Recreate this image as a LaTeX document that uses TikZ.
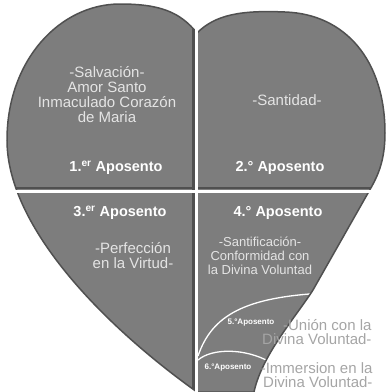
\documentclass[tikz,border=0pt]{standalone}
\usepackage{fontspec}
\setmainfont{Liberation Sans}
\definecolor{relleno}{RGB}{125,125,125}
\definecolor{sombra}{RGB}{80,80,80}
\definecolor{claro}{RGB}{228,228,228}
\definecolor{fuera}{RGB}{165,165,165}
\newcommand{\corazon}{(197,33) .. controls (180,12) and (160,4) .. (120,4)
  .. controls (60,4) and (7,60) .. (7,140)
  .. controls (7,230) and (110,330) .. (197,392)
  -- (254,392) .. controls (262,355) and (295,318) .. (313,290)
  -- (372,186) .. controls (378,175) and (385,160) .. (385,133)
  .. controls (385,60) and (345,14) .. (285,12)
  .. controls (240,10) and (215,15) .. (197,33) -- cycle}
\begin{document}
\begin{tikzpicture}[x=1pt,y=-1pt,
    titulo/.style={text=white,font=\bfseries\fontsize{14.5}{15}\selectfont},
    desc/.style={text=claro,align=center,font=\fontsize{15}{15}\selectfont},
    chico/.style={text=white,font=\bfseries\fontsize{8}{8}\selectfont,inner sep=1pt},
    fueratxt/.style={text=fuera,align=right,anchor=east,font=\fontsize{15}{14.5}\selectfont}]
    \useasboundingbox (0,0) rectangle (386,392);

    % Heart
    \fill[relleno] \corazon;
    \begin{scope}
        \clip \corazon;
        % shadows next to the dividers
        \draw[sombra,line width=2.5] (193.5,20) -- (193.5,392);
        \draw[sombra,line width=2.5] (0,188) -- (386,188);
        % rooms 5 and 6
        \draw[white,line width=1.3] (198,356) .. controls (212,315) and (245,297) .. (325,293);
        \draw[white,line width=1.3] (198,360) .. controls (212,348) and (245,348) .. (270,362);
    \end{scope}
    \draw[sombra,line width=1.5] \corazon;

    % Dividers
    \draw[white,line width=3.5] (196.5,15) -- (196.5,392);
    \draw[white,line width=3.5] (0,191.5) -- (386,191.5);

    % Room 1
    \node[desc] (sal) at (107,95) {-Salvación-\\Amor Santo\\Inmaculado Corazón\\de Maria};
    \node[titulo] (ap1) at (116,168) {1.\textsuperscript{er} Aposento};

    % Room 2
    \node[desc] (san) at (287,100) {-Santidad-};
    \node[titulo] (ap2) at (280,168) {2.° Aposento};

    % Room 3
    \node[titulo] (ap3) at (120,213) {3.\textsuperscript{er} Aposento};
    \node[desc] (per) at (133,256) {-Perfección\\en la Virtud-};

    % Room 4
    \node[titulo] (ap4) at (278,213) {4.° Aposento};
    \node[desc,font=\fontsize{13}{14}\selectfont] (sfc) at (260,256) {-Santificación-\\Conformidad con\\la Divina Voluntad};

    % Rooms 5 and 6
    \node[chico] (ap5) at (251,323) {5.°Aposento};
    \node[fueratxt] (uni) at (375,332) {-Unión con la\\Divina Voluntad-};
    \node[chico] (ap6) at (228,368) {6.°Aposento};
    \node[fueratxt] (inm) at (376,375) {-Immersion en la\\Divina Voluntad-};
\end{tikzpicture}
\end{document}
